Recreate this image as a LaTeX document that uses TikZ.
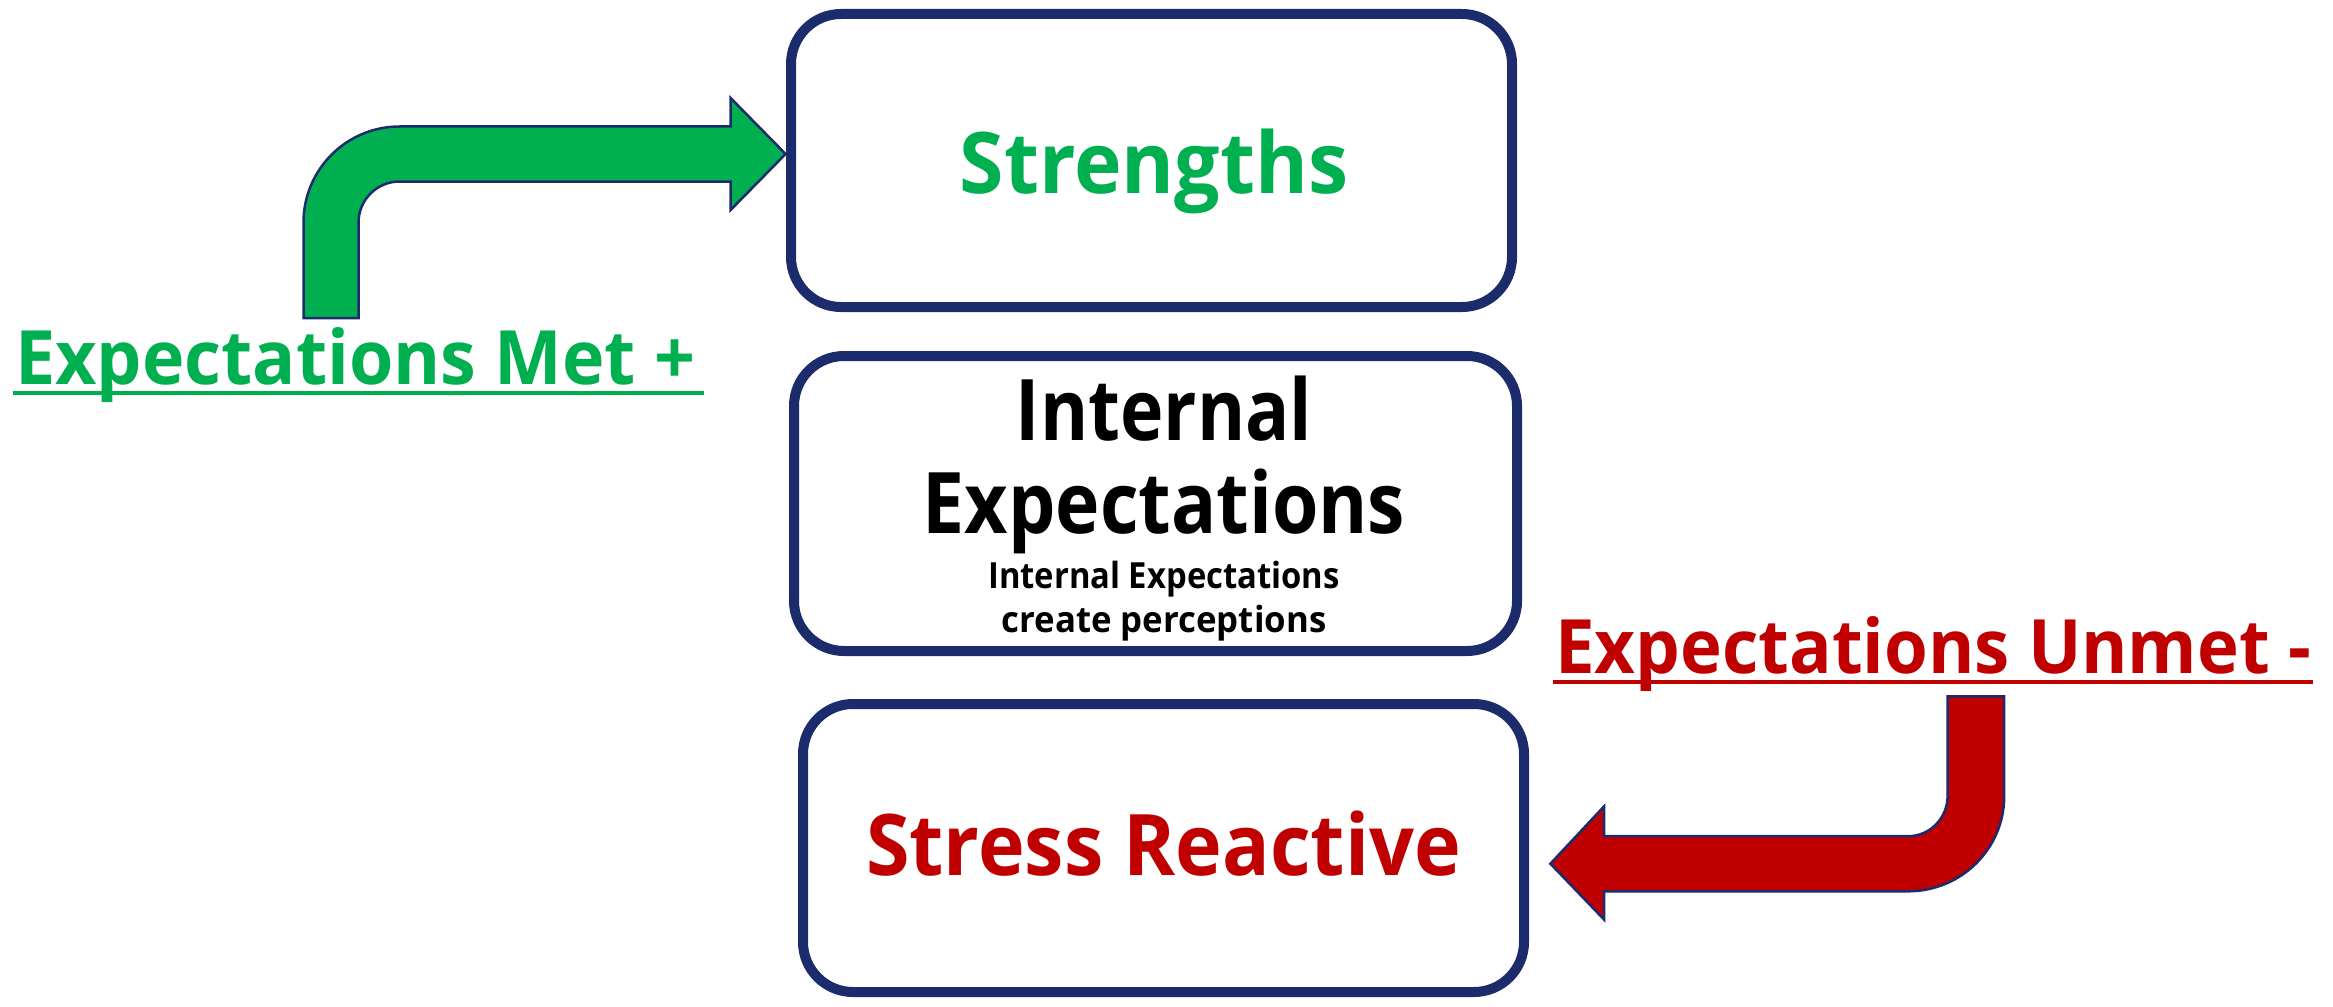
\documentclass[tikz,border=0pt]{standalone}
\usepackage{fontspec}
\newfontfamily\headfont[FakeStretch=0.92]{Open Sans}
\definecolor{navy}{HTML}{1C2B6B}
\definecolor{okgreen}{HTML}{00B050}
\definecolor{alertred}{HTML}{C00000}
% horizontal stretch of a single text
\newcommand{\wide}[2]{\scalebox{#1}[1]{#2}}
\begin{document}
\begin{tikzpicture}[x=1pt,y=-1pt,
  box/.style={draw=navy, line width=10pt, rounded corners=50pt, fill=white, inner sep=0pt},
  bendarrow/.style={draw=navy, line width=2.5pt, line join=miter},
  bigtxt/.style={inner sep=0pt, font=\headfont\bfseries\fontsize{85}{90}\selectfont},
  labeltxt/.style={inner sep=0pt, anchor=base west, font=\headfont\bfseries\fontsize{75}{80}\selectfont},
  smalltxt/.style={inner sep=0pt, anchor=base, font=\headfont\bfseries\fontsize{36}{40}\selectfont}]
\useasboundingbox (0,0) rectangle (2333,1006);

% the three stacked boxes
\node[box, minimum width=721pt, minimum height=293pt] (strengths) at (1151.5,160.5) {};
\node[box, minimum width=723pt, minimum height=295pt] (internal) at (1155.5,503.5) {};
\node[box, minimum width=721pt, minimum height=288pt] (stress) at (1163.5,848) {};

% box texts
\node[bigtxt, anchor=base, text=okgreen] (strtxt) at (1154,193) {\wide{1.03}{Strengths}};
\node[bigtxt, anchor=base] (inttxt1) at (1164,440) {\wide{0.94}{Internal}};
\node[bigtxt, anchor=base] (inttxt2) at (1164,533) {\wide{0.96}{Expectations}};
\node[smalltxt] (inttxt3) at (1164,588) {\wide{0.99}{Internal Expectations}};
\node[smalltxt] (inttxt4) at (1164,632) {\wide{1.05}{create perceptions}};
\node[bigtxt, anchor=base, text=alertred] (strtxtb) at (1163.5,875) {\wide{1.01}{Stress Reactive}};

% side labels with underlines
\node[labeltxt, text=okgreen] (met) at (15,384) {\wide{1.04}{Expectations Met +}};
\draw[okgreen, line width=4pt] ([xshift=-2pt,yshift=-9pt]met.base west) -- ([xshift=8pt,yshift=-9pt]met.base east);
\node[labeltxt, text=alertred] (unmet) at (1555,673) {\wide{1.025}{Expectations Unmet -}};
\draw[alertred, line width=4pt] ([xshift=-2pt,yshift=-9pt]unmet.base west) -- ([xshift=2pt,yshift=-9pt]unmet.base east);

% green bent arrow into the strengths box
\draw[bendarrow, fill=okgreen]
  (303.5,318) -- (303.5,222.5)
  .. controls (303.5,169.5) and (346.5,126.5) .. (399.5,126.5)
  -- (730.6,126.5) -- (730.6,98) -- (785.6,154) -- (730.6,210) -- (730.6,181.5)
  -- (399.5,181.5)
  .. controls (376.9,181.5) and (358.5,199.9) .. (358.5,222.5)
  -- (358.5,318) -- cycle;

% red bent arrow into the stress box
\draw[bendarrow, fill=alertred]
  (1947.6,696.3) -- (2004.2,696.3) -- (2004.2,796)
  .. controls (2004.2,849) and (1961,891.3) .. (1908,891.3)
  -- (1604,891.3) -- (1604,919.5) -- (1550.4,863.7) -- (1604,806.4) -- (1604,836.2)
  -- (1908,836.2)
  .. controls (1930,836.2) and (1947.6,818) .. (1947.6,796)
  -- cycle;
\end{tikzpicture}
\end{document}
